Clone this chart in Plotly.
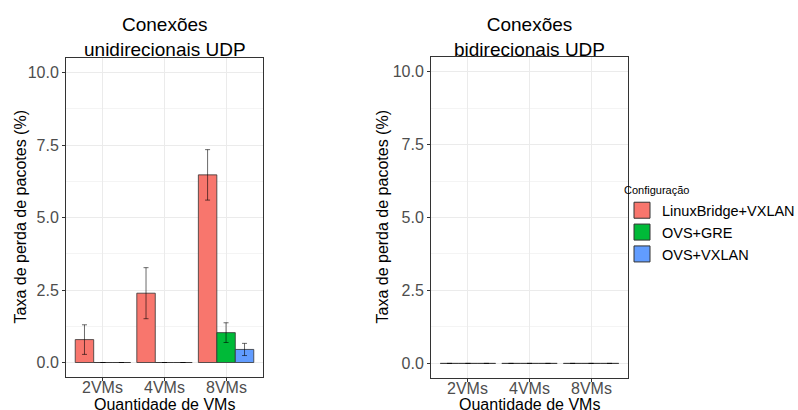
import plotly.graph_objects as go

# Packet loss (%) per VM count and network configuration
categories = ["2VMs", "4VMs", "8VMs"]
configs = ["LinuxBridge+VXLAN", "OVS+GRE", "OVS+VXLAN"]
colors = ["#F8766D", "#00BA38", "#619CFF"]

uni_mean = {
    "LinuxBridge+VXLAN": [0.79, 2.39, 6.47],
    "OVS+GRE": [0.0, 0.0, 1.03],
    "OVS+VXLAN": [0.0, 0.0, 0.45],
}
uni_err = {
    "LinuxBridge+VXLAN": [0.51, 0.88, 0.87],
    "OVS+GRE": [0.0, 0.0, 0.34],
    "OVS+VXLAN": [0.0, 0.0, 0.21],
}
bi_mean = {
    "LinuxBridge+VXLAN": [0.0, 0.0, 0.0],
    "OVS+GRE": [0.0, 0.0, 0.0],
    "OVS+VXLAN": [0.0, 0.0, 0.0],
}
bi_err = {
    "LinuxBridge+VXLAN": [0.0, 0.0, 0.0],
    "OVS+GRE": [0.0, 0.0, 0.0],
    "OVS+VXLAN": [0.0, 0.0, 0.0],
}

panel_titles = ["Conexões<br>unidirecionais UDP", "Conexões<br>bidirecionais UDP"]
y_title = "Taxa de perda de pacotes (%)"
x_title = "Quantidade de VMs"
legend_title = "Configuração"
y_ticks = [0, 2.5, 5, 7.5, 10]
y_ticktext = ["0.0", "2.5", "5.0", "7.5", "10.0"]

FONT = "Liberation Sans, Arial, sans-serif"
W, H = 798, 410
EDGE = "#333333"
TICK_GRAY = "#4D4D4D"

fig = go.Figure()

panels = [(uni_mean, uni_err, "x", "y"), (bi_mean, bi_err, "x2", "y2")]
for p, (means, errs, xa, ya) in enumerate(panels):
    for cfg, col in zip(configs, colors):
        e = [v if v > 0 else None for v in errs[cfg]]
        fig.add_trace(go.Bar(
            x=categories, y=means[cfg], name=cfg,
            marker=dict(color=col, line=dict(color=EDGE, width=0.8)),
            error_y=dict(type="data", array=e, visible=True,
                         color="rgba(0,0,0,0.65)", thickness=0.9, width=2.5),
            xaxis=xa, yaxis=ya, legendgroup=cfg, showlegend=False,
        ))

# legend entries with large square keys
for cfg, col in zip(configs, colors):
    fig.add_trace(go.Scatter(
        x=[None], y=[None], mode="markers", name=cfg, legendgroup=cfg,
        marker=dict(symbol="square", size=16, color=col,
                    line=dict(color=EDGE, width=1)),
        xaxis="x", yaxis="y", showlegend=True,
    ))

# panel geometry in pixels: (left, right, top, bottom, y-title x)
panel_geo = [(66, 263, 58, 377, 20), (431, 628, 57, 378, 382)]

def px_to_paper_x(v):
    return v / W

def px_to_paper_y(v):
    return 1 - v / H

axis_common = dict(
    showline=True, mirror=True, linecolor=EDGE, linewidth=1,
    ticks="outside", ticklen=3, tickcolor=EDGE,
    tickfont=dict(family=FONT, size=16, color=TICK_GRAY),
    gridcolor="#EBEBEB", gridwidth=1, zeroline=False,
)

for i, (x0, x1, top, bot, ytx) in enumerate(panel_geo):
    suffix = "" if i == 0 else str(i + 1)
    fig.update_layout({
        "xaxis" + suffix: dict(
            domain=[px_to_paper_x(x0), px_to_paper_x(x1)],
            anchor="y" + suffix, type="category",
            range=[-0.6, 2.6], showgrid=True, showticklabels=False,
            **axis_common,
        ),
        "yaxis" + suffix: dict(
            domain=[px_to_paper_y(bot), px_to_paper_y(top)],
            anchor="x" + suffix, range=[-0.5, 10.5],
            tickvals=y_ticks, ticktext=y_ticktext, showgrid=True,
            minor=dict(tickvals=[1.25, 3.75, 6.25, 8.75], showgrid=True,
                       gridcolor="#F4F4F4", gridwidth=0.8, ticks=""),
            **axis_common,
        ),
    })
    # category labels placed just under the tick marks
    for cat in categories:
        fig.add_annotation(text=cat, x=cat, xref="x" + suffix,
                           y=px_to_paper_y(bot + 10), yref="paper",
                           showarrow=False, xanchor="center", yanchor="middle",
                           font=dict(family=FONT, size=16, color=TICK_GRAY))
    cx = px_to_paper_x((x0 + x1) / 2)
    fig.add_annotation(text=panel_titles[i], x=cx, y=px_to_paper_y(37),
                       xref="paper", yref="paper", showarrow=False,
                       font=dict(family=FONT, size=19, color="black"),
                       xanchor="center", yanchor="middle")
    fig.add_annotation(text=x_title, x=cx, y=px_to_paper_y(404),
                       xref="paper", yref="paper", showarrow=False,
                       font=dict(family=FONT, size=16, color="black"),
                       xanchor="center", yanchor="middle")
    fig.add_annotation(text=y_title, x=px_to_paper_x(ytx),
                       y=px_to_paper_y((top + bot) / 2),
                       xref="paper", yref="paper", showarrow=False,
                       textangle=-90,
                       font=dict(family=FONT, size=16, color="black"),
                       xanchor="center", yanchor="middle")

fig.update_layout(
    width=W, height=H,
    margin=dict(l=0, r=0, t=0, b=0, autoexpand=False),
    paper_bgcolor="white", plot_bgcolor="white",
    barmode="group", bargap=0.1, bargroupgap=0,
    font=dict(family=FONT),
    legend=dict(
        title=dict(text=legend_title, font=dict(family=FONT, size=11, color="black")),
        font=dict(family=FONT, size=14.5, color="black"),
        x=px_to_paper_x(622), y=px_to_paper_y(180),
        xanchor="left", yanchor="top",
        tracegroupgap=0, itemwidth=30, itemsizing="trace",
        bgcolor="rgba(0,0,0,0)",
    ),
)

fig.write_html("out.html")
